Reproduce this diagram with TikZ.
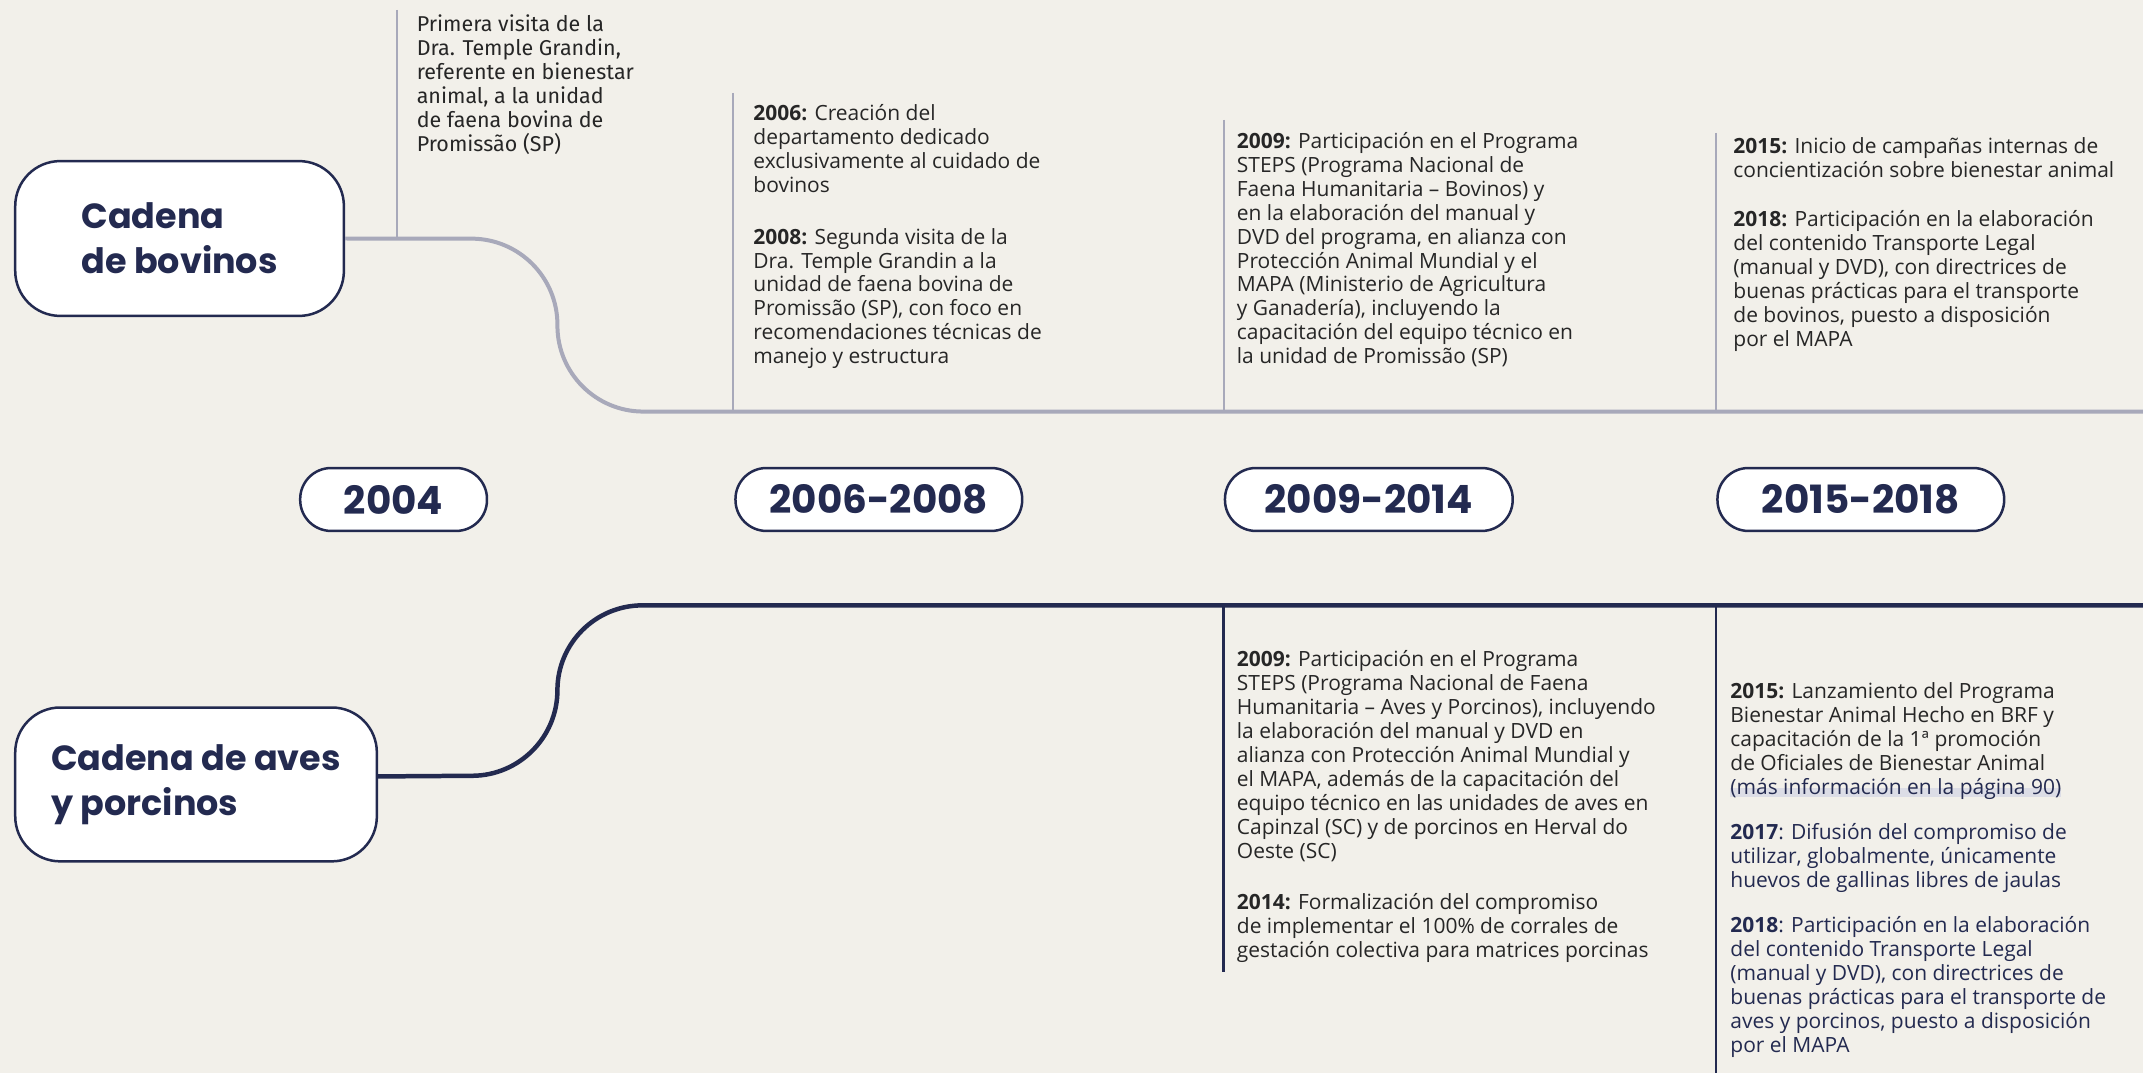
\documentclass[tikz,border=0pt]{standalone}
\usepackage{fontspec}
\setmainfont{Open Sans}
\newfontfamily\headfont{Poppins}
\newfontfamily\firstfont{Fira Sans}
\usetikzlibrary{positioning}

\definecolor{paper}{HTML}{F2F0EA}
\definecolor{navy}{HTML}{232A50}
\definecolor{steel}{HTML}{A8A9BA}
\definecolor{ink}{HTML}{262626}
\definecolor{linkbg}{HTML}{DCDDE6}

\newcommand{\pagelink}[1]{\leavevmode\setbox0\hbox{\color{navy}#1}\rlap{\color{linkbg}\rule[-3pt]{\wd0}{9pt}}\box0}

\tikzset{
	chainbox/.style={draw=navy, line width=2.5pt, fill=white, rounded corners=45pt,
		anchor=north west, align=left, text=navy, font=\headfont\bfseries\fontsize{35}{45}\selectfont},
	yearpill/.style={draw=navy, line width=2.5pt, fill=white, rounded corners=31pt,
		minimum height=63pt, text=navy, font=\headfont\bfseries\fontsize{39}{40}\selectfont},
	entry/.style={anchor=north west, inner sep=0pt, align=left, text=ink,
		font=\fontsize{21}{24}\selectfont}
}

\begin{document}
\begin{tikzpicture}[x=1pt, y=-1pt]
		\fill[paper] (0,0) rectangle (2145,1074);

		% chains
		\node [chainbox, minimum width=329pt, minimum height=155pt] (bov) at (14,160) {Cadena\\de bovinos};
		\node [chainbox, minimum width=362pt, minimum height=154pt] (avp) at (14,707) {Cadena de aves\\y porcinos};

		\coordinate (bovend) at (2145,412);
		\coordinate (avpend) at (2145,606);

		\draw [steel, line width=4pt, rounded corners=86pt] (bov.east) -- (558,239) -- (558,412) -- (bovend);
		\draw [navy, line width=4.5pt, rounded corners=85pt] ([yshift=8pt]avp.east) -- (558,776) -- (558,606) -- (avpend);

		% ticks
		\coordinate (t04) at (397,10);
		\coordinate (t06) at (734,93);
		\coordinate (t09) at (1225,120);
		\coordinate (t15) at (1718,133);
		\coordinate (b09) at (1225,973);
		\coordinate (b15) at (1718,1074);

		\begin{scope}[steel, line width=2pt]
			\draw (t04) -- (t04 |- bov.east);
			\foreach \t in {t06,t09,t15}
			{
				\draw (\t) -- (\t |- bovend);
			}
		\end{scope}

		\begin{scope}[navy, line width=2.5pt]
			\foreach \t in {b09,b15}
			{
				\draw (\t) -- (\t |- avpend);
			}
		\end{scope}

		% years
		\node [yearpill, minimum width=187pt] (y04) at (394,500) {2004};
		\node [yearpill, minimum width=287pt, anchor=west] (y06) at (735,500) {2006-2008};
		\node [yearpill, minimum width=288pt, anchor=west] (y09) at (1225,500) {2009-2014};
		\node [yearpill, minimum width=287pt, anchor=west] (y15) at (1718,500) {2015-2018};

		% bovinos
		\node [entry, font=\firstfont\fontsize{21.5}{24}\selectfont] (e04) at (417,15) {Primera visita de la\\Dra. Temple Grandin,\\referente en bienestar\\animal, a la unidad\\de faena bovina de\\Promissão (SP)};

		\node [entry] (e06) at (754,104) {\textbf{2006:} Creación del\\departamento dedicado\\exclusivamente al cuidado de\\bovinos\\[28pt]
			\textbf{2008:} Segunda visita de la\\Dra. Temple Grandin a la\\unidad de faena bovina de\\Promissão (SP), con foco en\\recomendaciones técnicas de\\manejo y estructura};

		\node [entry] (e09) at (1238,132) {\textbf{2009:} Participación en el Programa\\STEPS (Programa Nacional de\\Faena Humanitaria – Bovinos) y\\en la elaboración del manual y\\DVD del programa, en alianza con\\Protección Animal Mundial y el\\MAPA (Ministerio de Agricultura\\y Ganadería), incluyendo la\\capacitación del equipo técnico en\\la unidad de Promissão (SP)};

		\node [entry] (e15) at (1735,138) {\textbf{2015:} Inicio de campañas internas de\\concientización sobre bienestar animal\\[25pt]
			\textbf{2018:} Participación en la elaboración\\del contenido Transporte Legal\\(manual y DVD), con directrices de\\buenas prácticas para el transporte\\de bovinos, puesto a disposición\\por el MAPA};

		% aves y porcinos
		\node [entry] (f09) at (1238,651) {\textbf{2009:} Participación en el Programa\\STEPS (Programa Nacional de Faena\\Humanitaria – Aves y Porcinos), incluyendo\\la elaboración del manual y DVD en\\alianza con Protección Animal Mundial y\\el MAPA, además de la capacitación del\\equipo técnico en las unidades de aves en\\Capinzal (SC) y de porcinos en Herval do\\Oeste (SC)\\[27pt]
			\textbf{2014:} Formalización del compromiso\\de implementar el 100\% de corrales de\\gestación colectiva para matrices porcinas};

		\node [entry] (f15) at (1732,683) {\textbf{2015:} Lanzamiento del Programa\\Bienestar Animal Hecho en BRF y\\capacitación de la 1ª promoción\\de Oficiales de Bienestar Animal\\\pagelink{(más información en la página 90)}\\[21pt]
			\textbf{2017}: Difusión del compromiso de\\utilizar, globalmente, únicamente\\huevos de gallinas libres de jaulas\\[21pt]
			\textbf{2018}: Participación en la elaboración\\del contenido Transporte Legal\\(manual y DVD), con directrices de\\buenas prácticas para el transporte de\\aves y porcinos, puesto a disposición\\por el MAPA};
	\end{tikzpicture}
\end{document}
